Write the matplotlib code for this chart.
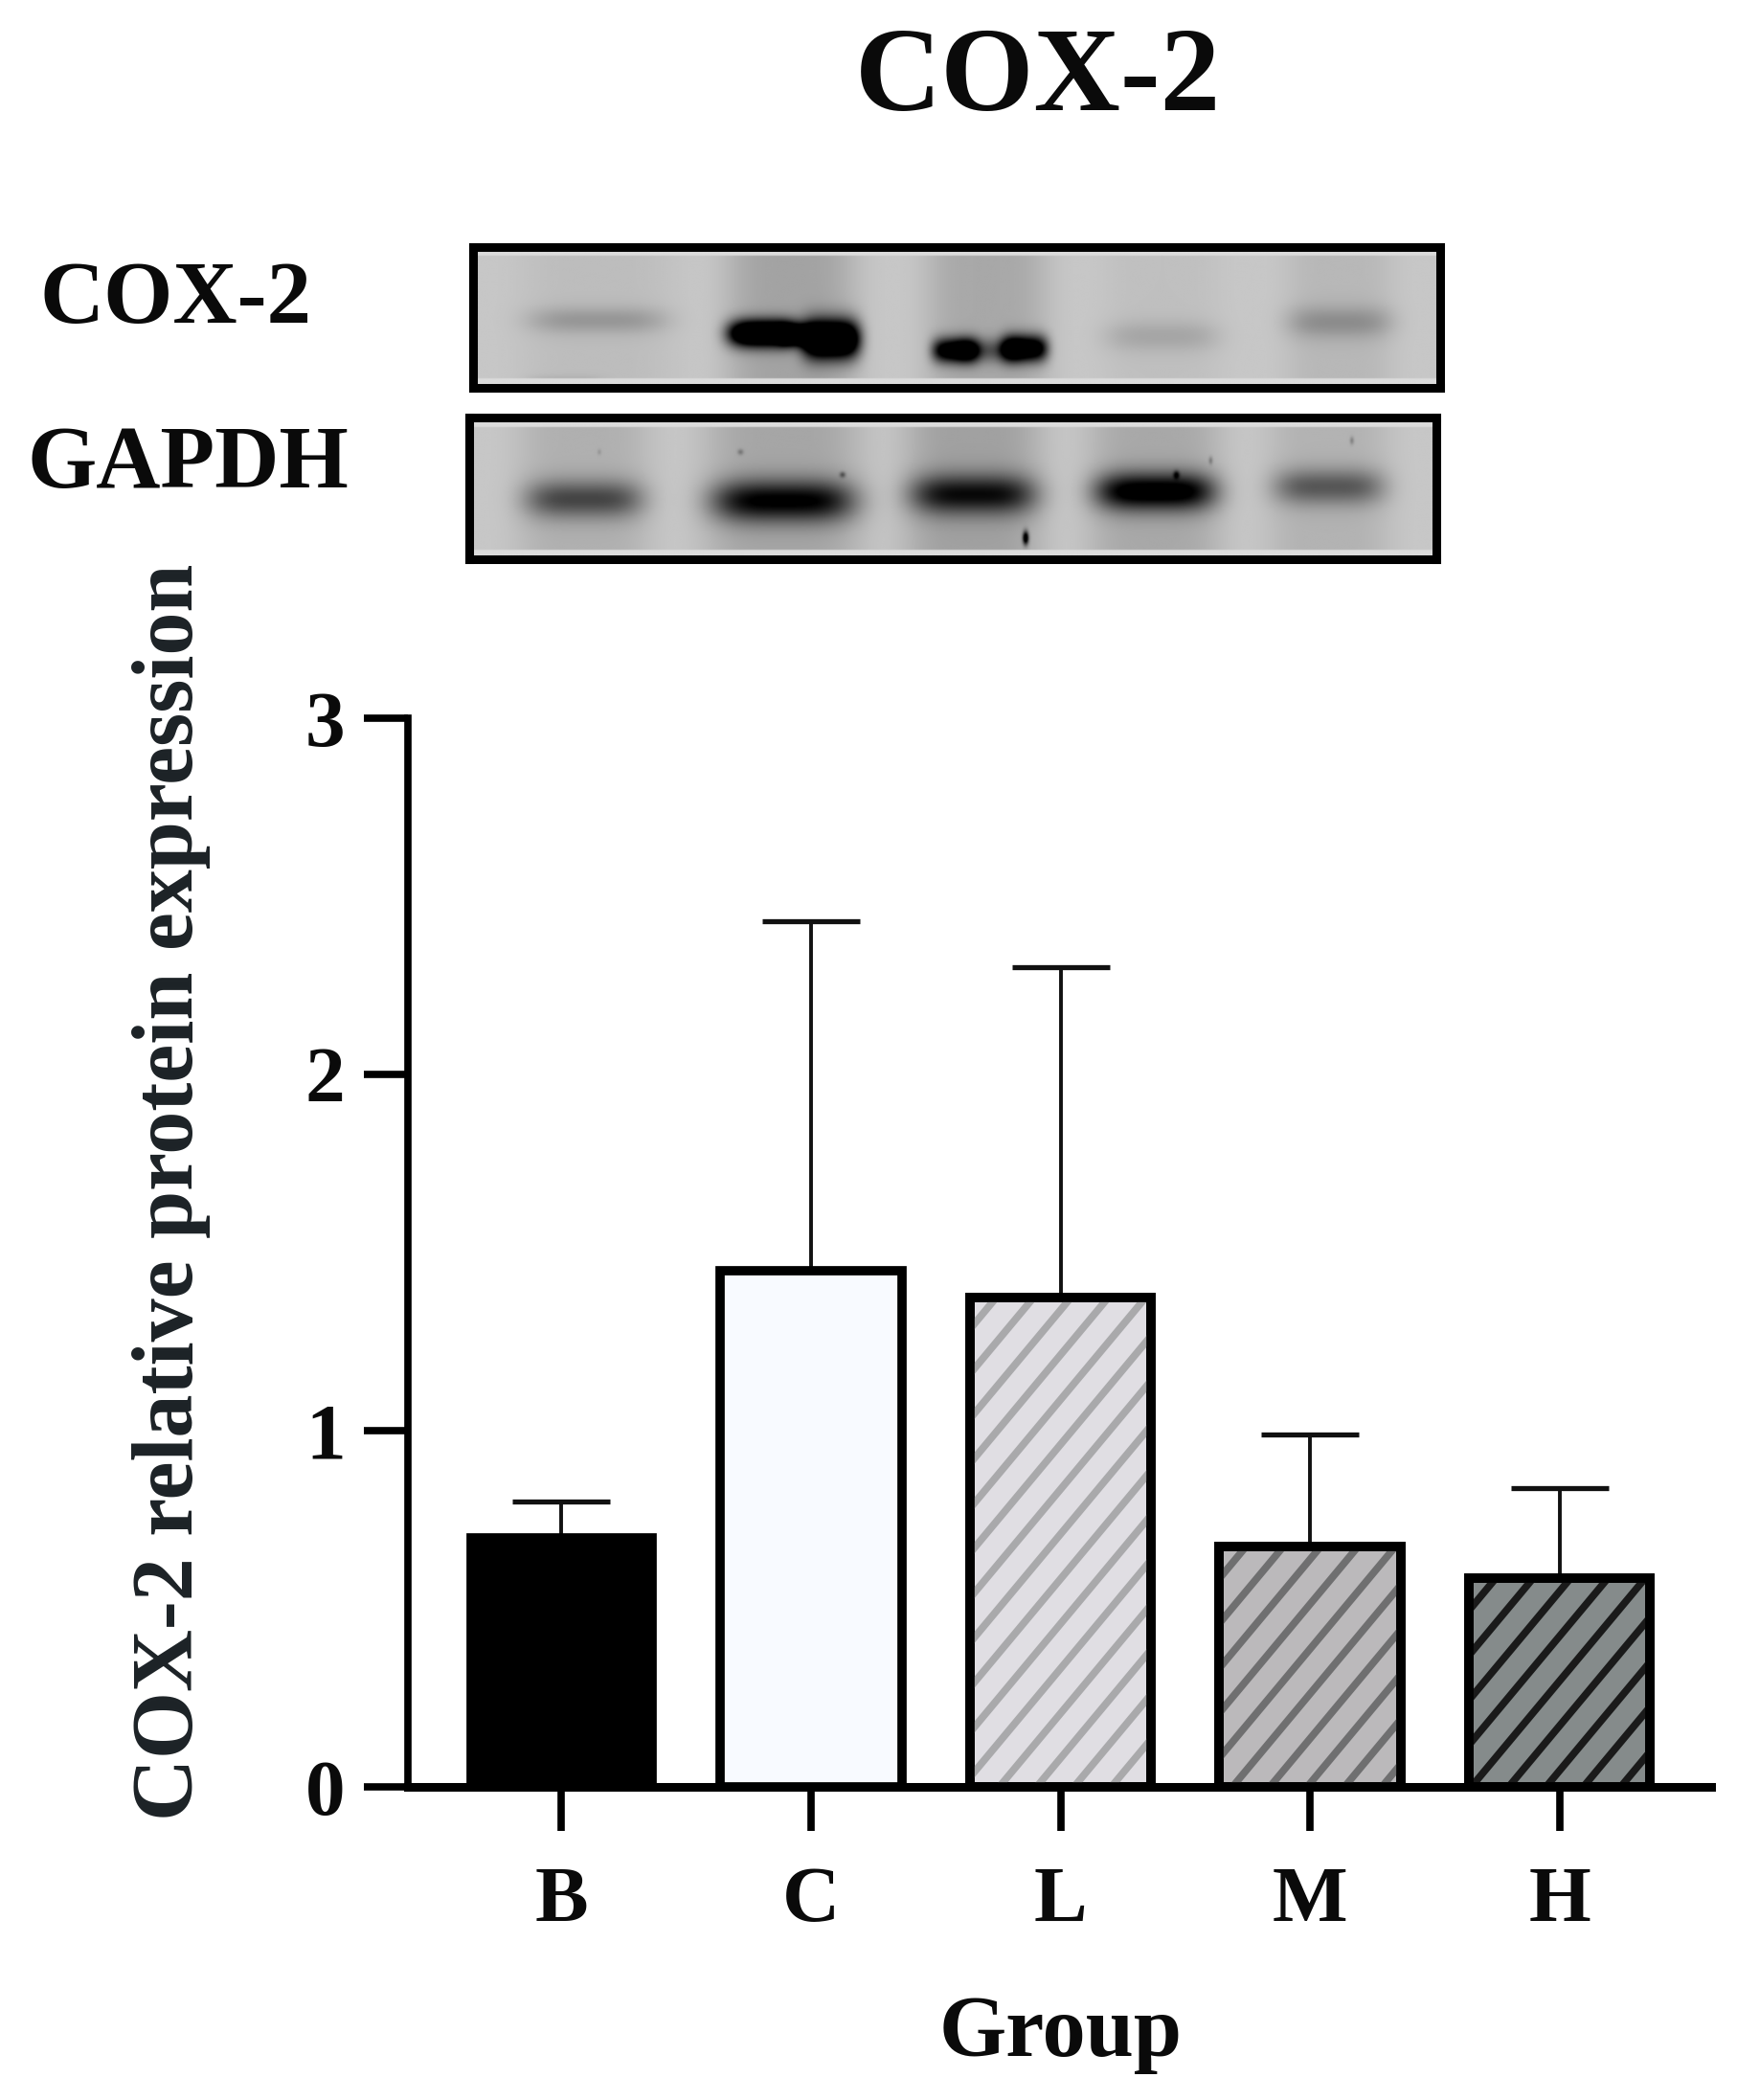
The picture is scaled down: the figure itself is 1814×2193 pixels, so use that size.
import numpy as np
import matplotlib
matplotlib.use('Agg')
import matplotlib.pyplot as plt
from matplotlib.collections import LineCollection
from matplotlib.transforms import IdentityTransform

plt.rcParams['font.family'] = ['Liberation Serif', 'DejaVu Serif']
plt.rcParams['font.weight'] = 'bold'

W, H = 1815, 2193

groups = ['B', 'C', 'L', 'M', 'H']
means = [0.70, 1.45, 1.375, 0.675, 0.585]
tops = [0.80, 2.43, 2.30, 0.99, 0.84]
fills = ['#000000', '#f8faff', '#e0dee3', '#bbb9bb', '#858b8b']
stripes = [None, None, '#a9a9ab', '#6f6f70', '#1a1a1a']
yticks = [0, 1, 2, 3]

# blot bands: lane centre, half width, row, half height, strength
cox_bands = [(130, 72, 78, 14, 0.15), (95, 40, 146, 8, 0.10),
             (305, 38, 92, 14, 1.3), (375, 30, 98, 20, 1.4), (340, 20, 94, 9, 0.8),
             (505, 24, 110, 13, 0.9), (540, 36, 110, 13, 0.35), (578, 24, 108, 14, 1.0),
             (722, 60, 95, 16, 0.10), (908, 55, 80, 17, 0.17)]
cox_smears = [(130, 80, 0.04), (333, 68, 0.14), (538, 64, 0.12), (722, 60, 0.03), (908, 56, 0.06)]
gapdh_bands = [(120, 62, 86, 20, 0.42), (329, 75, 88, 22, 0.68), (528, 66, 81, 21, 0.60),
               (719, 63, 78, 20, 0.78), (901, 58, 73, 19, 0.36)]
gapdh_smears = [(120, 70, 0.09), (329, 82, 0.13), (528, 72, 0.15), (719, 70, 0.12), (901, 64, 0.08)]
specks = [(583, 127, 3, 7, 0.9), (391, 60, 3, 3, 0.3), (741, 60, 3, 4, 0.4), (777, 45, 2, 4, 0.2),
          (284, 36, 3, 3, 0.2), (136, 36, 2, 3, 0.1), (925, 24, 2, 4, 0.2)]


def blot(bands, smears, spots=()):
    yy, xx = np.mgrid[0:150, 0:1014]
    img = np.full(xx.shape, 0.78)
    for c, w, s in smears:
        img -= s * np.exp(-((xx - c) / w) ** 4)
    for c, w, r, h, s in bands:
        img -= s * np.exp(-((xx - c) / w) ** 4 - ((yy - r) / h) ** 2)
    for c, r, w, h, s in spots:
        img -= s * np.exp(-((xx - c) / w) ** 2 - ((yy - r) / h) ** 2)
    img[:10] = 0.86
    img[-10:] = 0.86
    return np.clip(img, 0, 1)


def add_blot(x0, x1, y0, y1, img):
    ax = fig.add_axes([x0 / W, 1 - y1 / H, (x1 - x0) / W, (y1 - y0) / H])
    ax.imshow(img, cmap='gray', vmin=0, vmax=1, aspect='auto', interpolation='bicubic')
    ax.set_xticks([])
    ax.set_yticks([])
    for s in ax.spines.values():
        s.set_linewidth(6.5)
        s.set_color('black')


fig = plt.figure(figsize=(W / 100, H / 100), dpi=100)

fig.text(1084 / W, 1 - 85 / H, 'COX-2', fontsize=90, ha='center', va='center', color='#0a0a0a')
fig.text(184 / W, 1 - 315 / H, 'COX-2', fontsize=67, ha='center', va='center', color='#0a0a0a')
fig.text(196 / W, 1 - 487 / H, 'GAPDH', fontsize=67, ha='center', va='center', color='#0a0a0a')

add_blot(494, 1504, 258, 405, blot(cox_bands, cox_smears))
add_blot(490, 1500, 436, 584, blot(gapdh_bands, gapdh_smears, specks))

# bar chart
ax = fig.add_axes([426 / W, 1 - 1866 / H, (1787 - 426) / W, (1866 - 750) / H])
x = np.arange(len(groups))
ax.set_xlim(-0.616, 4.608)
ax.set_ylim(0, 3)
ax.patch.set_alpha(0)

err = np.array(tops) - np.array(means)
ax.errorbar(x, means, yerr=[np.zeros(len(x)), err], fmt='none', ecolor='#111111',
            elinewidth=2.8, capsize=37, capthick=3.8, zorder=1)

bars = ax.bar(x, means, width=0.727, color=fills, edgecolor='black', linewidth=7, zorder=3)

fig.canvas.draw()
for bar, col in zip(bars, stripes):
    if col is None:
        continue
    bb = bar.get_window_extent()
    run = bb.height / 1.2
    starts = np.arange(bb.x0 - run - 50, bb.x1 + 50, 39)
    segs = [[(s, bb.y0), (s + run, bb.y1)] for s in starts]
    lc = LineCollection(segs, colors=col, linewidths=5.5, transform=IdentityTransform(), zorder=3.5)
    ax.add_collection(lc, autolim=False)
    lc.set_clip_path(bar)
    outline = plt.Rectangle(bar.get_xy(), bar.get_width(), bar.get_height(), fill=False,
                            edgecolor='black', linewidth=7, zorder=4)
    ax.add_patch(outline)

for side in ['top', 'right']:
    ax.spines[side].set_visible(False)
ax.spines['left'].set_linewidth(5.5)
ax.spines['bottom'].set_linewidth(6.5)
ax.spines['bottom'].set_zorder(5)
ax.set_yticks(yticks)
ax.set_xticks(x)
ax.set_xticklabels(groups)
ax.tick_params(axis='both', length=33, width=5.5, labelsize=60, pad=14, color='black', labelcolor='#0a0a0a')
ax.tick_params(axis='x', pad=27)

ax.set_xlabel('Group', fontsize=65, fontweight='bold', labelpad=43, x=(1108 - 426) / (1787 - 426), color='#0a0a0a')
fig.text(179 / W, 1 - 1245 / H, 'COX-2 relative protein expression', fontsize=64.8, rotation=90,
         ha='center', va='center', color='#1c2226')

fig.savefig('out.png', dpi=100)
